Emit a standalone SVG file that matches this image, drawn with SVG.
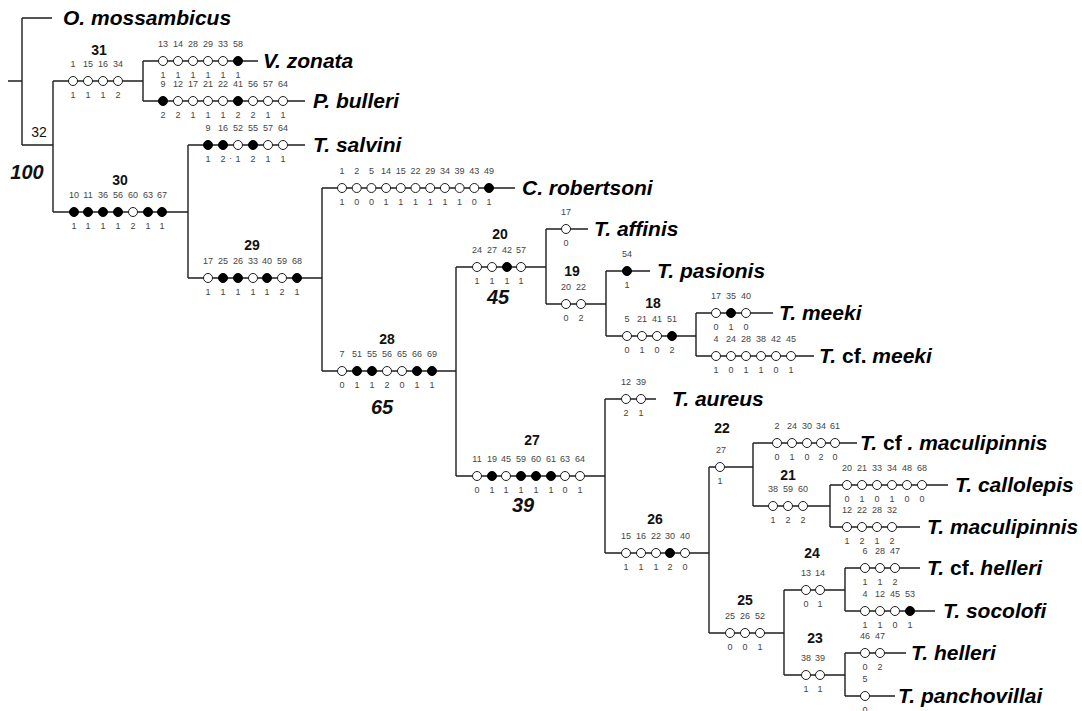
<svg xmlns="http://www.w3.org/2000/svg" xmlns:xlink="http://www.w3.org/1999/xlink" width="1082" height="711" viewBox="0 0 1082 711">
<style>
.ln{stroke:#1e1e1e;stroke-width:1.4;fill:none}
.ch{font-family:"Liberation Sans",Arial,sans-serif;font-size:9px;fill:#444;text-anchor:middle}
.nd{font-family:"Liberation Sans",Arial,sans-serif;font-size:14px;font-weight:bold;fill:#111;text-anchor:middle}
.nr{font-family:"Liberation Sans",Arial,sans-serif;font-size:14px;fill:#111;text-anchor:middle}
.sp{font-family:"Liberation Sans",Arial,sans-serif;font-size:20px;font-weight:bold;font-style:italic;fill:#111;text-anchor:middle}
.tx{font-family:"Liberation Sans",Arial,sans-serif;font-size:21px;font-weight:bold;font-style:italic;fill:#000}
.up{font-style:normal}
</style>
<defs>
<circle id="co" r="4.5" fill="#fff" stroke="#1e1e1e" stroke-width="1"/>
<circle id="cf" r="4.5" fill="#000" stroke="#000" stroke-width="1"/>
</defs>
<rect width="1082" height="711" fill="#fff"/>
<g id="connectors" class="ln">
<path d="M8 81H22M22 18V145M22 18H52M22 145H53M53 81V212M53 81H143M143 61V101M143 61H258M143 101H305"/>
<path d="M53 212H188M188 145V278M188 145H305M188 278H322M322 188V371M322 188H515M322 371H456M456 267V476"/>
<path d="M456 267H546M546 229V304M546 229H588M546 304H606M606 271V336M606 271H650M606 336H696M696 313V356M696 313H773M696 356H814"/>
<path d="M456 476H605M605 399V553M605 399H656M605 553H709M709 467V633M709 467H753M753 443V506M753 443H857M753 506H830M830 485V527M830 485H948M830 527H920"/>
<path d="M709 633H784M784 590V675M784 590H845M845 568V611M845 568H920M845 611H935M784 675H845M845 653V696M845 653H906M845 696H895"/>
</g>
<g id="root">
<text class="nr" x="39" y="137">32</text>
<text class="sp" x="27" y="179">100</text>
</g>
<g id="o_mossambicus"><text class="tx" x="63" y="25">O. mossambicus</text></g>
<g id="n31">
<text class="nd" x="99" y="55">31</text>
<use href="#co" x="73" y="81"/><use href="#co" x="88" y="81"/><use href="#co" x="103" y="81"/><use href="#co" x="118" y="81"/>
<text class="ch" x="73" y="67">1</text><text class="ch" x="88" y="67">15</text><text class="ch" x="103" y="67">16</text><text class="ch" x="118" y="67">34</text>
<text class="ch" x="73" y="98">1</text><text class="ch" x="88" y="98">1</text><text class="ch" x="103" y="98">1</text><text class="ch" x="118" y="98">2</text>
</g>
<g id="v_zonata">
<use href="#co" x="163" y="61"/><use href="#co" x="178" y="61"/><use href="#co" x="193" y="61"/><use href="#co" x="208" y="61"/><use href="#co" x="223" y="61"/><use href="#cf" x="238" y="61"/>
<text class="ch" x="163" y="47">13</text><text class="ch" x="178" y="47">14</text><text class="ch" x="193" y="47">28</text><text class="ch" x="208" y="47">29</text><text class="ch" x="223" y="47">33</text><text class="ch" x="238" y="47">58</text>
<text class="ch" x="163" y="78">1</text><text class="ch" x="178" y="78">1</text><text class="ch" x="193" y="78">1</text><text class="ch" x="208" y="78">1</text><text class="ch" x="223" y="78">1</text><text class="ch" x="238" y="78">1</text>
<text class="tx" x="263" y="68">V. zonata</text>
</g>
<g id="p_bulleri">
<use href="#cf" x="163" y="101"/><use href="#co" x="178" y="101"/><use href="#co" x="193" y="101"/><use href="#co" x="208" y="101"/><use href="#co" x="223" y="101"/><use href="#cf" x="238" y="101"/><use href="#co" x="253" y="101"/><use href="#co" x="268" y="101"/><use href="#co" x="283" y="101"/>
<text class="ch" x="163" y="87">9</text><text class="ch" x="178" y="87">12</text><text class="ch" x="193" y="87">17</text><text class="ch" x="208" y="87">21</text><text class="ch" x="223" y="87">22</text><text class="ch" x="238" y="87">41</text><text class="ch" x="253" y="87">56</text><text class="ch" x="268" y="87">57</text><text class="ch" x="283" y="87">64</text>
<text class="ch" x="163" y="118">2</text><text class="ch" x="178" y="118">2</text><text class="ch" x="193" y="118">1</text><text class="ch" x="208" y="118">1</text><text class="ch" x="223" y="118">1</text><text class="ch" x="238" y="118">2</text><text class="ch" x="253" y="118">2</text><text class="ch" x="268" y="118">1</text><text class="ch" x="283" y="118">1</text>
<text class="tx" x="313" y="108">P. bulleri</text>
</g>
<g id="t_salvini">
<use href="#cf" x="208" y="145"/><use href="#cf" x="223" y="145"/><use href="#co" x="238" y="145"/><use href="#cf" x="253" y="145"/><use href="#co" x="268" y="145"/><use href="#co" x="283" y="145"/>
<text class="ch" x="208" y="131">9</text><text class="ch" x="223" y="131">16</text><text class="ch" x="238" y="131">52</text><text class="ch" x="253" y="131">55</text><text class="ch" x="268" y="131">57</text><text class="ch" x="283" y="131">64</text>
<text class="ch" x="208" y="162">1</text><text class="ch" x="223" y="162">2</text><text class="ch" x="230.5" y="161">·</text><text class="ch" x="238" y="162">1</text><text class="ch" x="253" y="162">2</text><text class="ch" x="268" y="162">1</text><text class="ch" x="283" y="162">1</text>
<text class="tx" x="313" y="152">T. salvini</text>
</g>
<g id="n30">
<text class="nd" x="120" y="185">30</text>
<use href="#cf" x="74" y="212"/><use href="#cf" x="88" y="212"/><use href="#cf" x="103" y="212"/><use href="#cf" x="118" y="212"/><use href="#co" x="133" y="212"/><use href="#cf" x="148" y="212"/><use href="#cf" x="162" y="212"/>
<text class="ch" x="74" y="198">10</text><text class="ch" x="88" y="198">11</text><text class="ch" x="103" y="198">36</text><text class="ch" x="118" y="198">56</text><text class="ch" x="133" y="198">60</text><text class="ch" x="148" y="198">63</text><text class="ch" x="162" y="198">67</text>
<text class="ch" x="74" y="229">1</text><text class="ch" x="88" y="229">1</text><text class="ch" x="103" y="229">1</text><text class="ch" x="118" y="229">1</text><text class="ch" x="133" y="229">2</text><text class="ch" x="148" y="229">1</text><text class="ch" x="162" y="229">1</text>
</g>
<g id="n29">
<text class="nd" x="252" y="250">29</text>
<use href="#co" x="208" y="278"/><use href="#cf" x="223" y="278"/><use href="#cf" x="238" y="278"/><use href="#co" x="253" y="278"/><use href="#cf" x="267" y="278"/><use href="#co" x="282" y="278"/><use href="#cf" x="297" y="278"/>
<text class="ch" x="208" y="264">17</text><text class="ch" x="223" y="264">25</text><text class="ch" x="238" y="264">26</text><text class="ch" x="253" y="264">33</text><text class="ch" x="267" y="264">40</text><text class="ch" x="282" y="264">59</text><text class="ch" x="297" y="264">68</text>
<text class="ch" x="208" y="295">1</text><text class="ch" x="223" y="295">1</text><text class="ch" x="238" y="295">1</text><text class="ch" x="253" y="295">1</text><text class="ch" x="267" y="295">1</text><text class="ch" x="282" y="295">2</text><text class="ch" x="297" y="295">1</text>
</g>
<g id="c_robertsoni">
<use href="#co" x="342" y="188"/><use href="#co" x="356.7" y="188"/><use href="#co" x="371.4" y="188"/><use href="#co" x="386.1" y="188"/><use href="#co" x="400.8" y="188"/><use href="#co" x="415.5" y="188"/><use href="#co" x="430.2" y="188"/><use href="#co" x="444.9" y="188"/><use href="#co" x="459.6" y="188"/><use href="#co" x="474.3" y="188"/><use href="#cf" x="489" y="188"/>
<text class="ch" x="342" y="174">1</text><text class="ch" x="356.7" y="174">2</text><text class="ch" x="371.4" y="174">5</text><text class="ch" x="386.1" y="174">14</text><text class="ch" x="400.8" y="174">15</text><text class="ch" x="415.5" y="174">22</text><text class="ch" x="430.2" y="174">29</text><text class="ch" x="444.9" y="174">34</text><text class="ch" x="459.6" y="174">39</text><text class="ch" x="474.3" y="174">43</text><text class="ch" x="489" y="174">49</text>
<text class="ch" x="342" y="205">1</text><text class="ch" x="356.7" y="205">0</text><text class="ch" x="371.4" y="205">0</text><text class="ch" x="386.1" y="205">1</text><text class="ch" x="400.8" y="205">1</text><text class="ch" x="415.5" y="205">1</text><text class="ch" x="430.2" y="205">1</text><text class="ch" x="444.9" y="205">1</text><text class="ch" x="459.6" y="205">1</text><text class="ch" x="474.3" y="205">0</text><text class="ch" x="489" y="205">1</text>
<text class="tx" x="522" y="195">C. robertsoni</text>
</g>
<g id="n28">
<text class="nd" x="387" y="344">28</text>
<use href="#co" x="342" y="371"/><use href="#cf" x="357" y="371"/><use href="#cf" x="372" y="371"/><use href="#co" x="387" y="371"/><use href="#co" x="402" y="371"/><use href="#cf" x="417" y="371"/><use href="#cf" x="432" y="371"/>
<text class="ch" x="342" y="357">7</text><text class="ch" x="357" y="357">51</text><text class="ch" x="372" y="357">55</text><text class="ch" x="387" y="357">56</text><text class="ch" x="402" y="357">65</text><text class="ch" x="417" y="357">66</text><text class="ch" x="432" y="357">69</text>
<text class="ch" x="342" y="388">0</text><text class="ch" x="357" y="388">1</text><text class="ch" x="372" y="388">1</text><text class="ch" x="387" y="388">2</text><text class="ch" x="402" y="388">0</text><text class="ch" x="417" y="388">1</text><text class="ch" x="432" y="388">1</text>
<text class="sp" x="382" y="414">65</text>
</g>
<g id="n20">
<text class="nd" x="500" y="239">20</text>
<use href="#co" x="477" y="267"/><use href="#co" x="492" y="267"/><use href="#cf" x="507" y="267"/><use href="#co" x="521" y="267"/>
<text class="ch" x="477" y="253">24</text><text class="ch" x="492" y="253">27</text><text class="ch" x="507" y="253">42</text><text class="ch" x="521" y="253">57</text>
<text class="ch" x="477" y="284">1</text><text class="ch" x="492" y="284">1</text><text class="ch" x="507" y="284">1</text><text class="ch" x="521" y="284">1</text>
<text class="sp" x="498" y="304">45</text>
</g>
<g id="t_affinis">
<use href="#co" x="566" y="229"/>
<text class="ch" x="566" y="215">17</text><text class="ch" x="566" y="246">0</text>
<text class="tx" x="594" y="236">T. affinis</text>
</g>
<g id="n19">
<text class="nd" x="572" y="276">19</text>
<use href="#co" x="566" y="304"/><use href="#co" x="581" y="304"/>
<text class="ch" x="566" y="290">20</text><text class="ch" x="581" y="290">22</text>
<text class="ch" x="566" y="321">0</text><text class="ch" x="581" y="321">2</text>
</g>
<g id="t_pasionis">
<use href="#cf" x="627" y="271"/>
<text class="ch" x="627" y="257">54</text><text class="ch" x="627" y="288">1</text>
<text class="tx" x="657" y="278">T. pasionis</text>
</g>
<g id="n18">
<text class="nd" x="653" y="308">18</text>
<use href="#co" x="627" y="336"/><use href="#co" x="642" y="336"/><use href="#co" x="657" y="336"/><use href="#cf" x="672" y="336"/>
<text class="ch" x="627" y="322">5</text><text class="ch" x="642" y="322">21</text><text class="ch" x="657" y="322">41</text><text class="ch" x="672" y="322">51</text>
<text class="ch" x="627" y="353">0</text><text class="ch" x="642" y="353">1</text><text class="ch" x="657" y="353">0</text><text class="ch" x="672" y="353">2</text>
</g>
<g id="t_meeki">
<use href="#co" x="716" y="313"/><use href="#cf" x="731" y="313"/><use href="#co" x="746" y="313"/>
<text class="ch" x="716" y="299">17</text><text class="ch" x="731" y="299">35</text><text class="ch" x="746" y="299">40</text>
<text class="ch" x="716" y="330">0</text><text class="ch" x="731" y="330">1</text><text class="ch" x="746" y="330">0</text>
<text class="tx" x="779" y="320">T. meeki</text>
</g>
<g id="t_cf_meeki">
<use href="#co" x="716" y="356"/><use href="#co" x="731" y="356"/><use href="#co" x="746" y="356"/><use href="#co" x="761" y="356"/><use href="#co" x="776" y="356"/><use href="#co" x="791" y="356"/>
<text class="ch" x="716" y="342">4</text><text class="ch" x="731" y="342">24</text><text class="ch" x="746" y="342">28</text><text class="ch" x="761" y="342">38</text><text class="ch" x="776" y="342">42</text><text class="ch" x="791" y="342">45</text>
<text class="ch" x="716" y="373">1</text><text class="ch" x="731" y="373">0</text><text class="ch" x="746" y="373">1</text><text class="ch" x="761" y="373">1</text><text class="ch" x="776" y="373">0</text><text class="ch" x="791" y="373">1</text>
<text class="tx" x="819" y="363">T. <tspan class="up">cf.</tspan> meeki</text>
</g>
<g id="n27">
<text class="nd" x="532" y="445">27</text>
<use href="#co" x="477" y="476"/><use href="#cf" x="492" y="476"/><use href="#co" x="506" y="476"/><use href="#cf" x="521" y="476"/><use href="#cf" x="536" y="476"/><use href="#cf" x="551" y="476"/><use href="#co" x="565" y="476"/><use href="#co" x="580" y="476"/>
<text class="ch" x="477" y="462">11</text><text class="ch" x="492" y="462">19</text><text class="ch" x="506" y="462">45</text><text class="ch" x="521" y="462">59</text><text class="ch" x="536" y="462">60</text><text class="ch" x="551" y="462">61</text><text class="ch" x="565" y="462">63</text><text class="ch" x="580" y="462">64</text>
<text class="ch" x="477" y="493">0</text><text class="ch" x="492" y="493">1</text><text class="ch" x="506" y="493">1</text><text class="ch" x="521" y="493">1</text><text class="ch" x="536" y="493">1</text><text class="ch" x="551" y="493">1</text><text class="ch" x="565" y="493">0</text><text class="ch" x="580" y="493">1</text>
<text class="sp" x="523" y="512">39</text>
</g>
<g id="t_aureus">
<use href="#co" x="626" y="399"/><use href="#co" x="641" y="399"/>
<text class="ch" x="626" y="385">12</text><text class="ch" x="641" y="385">39</text>
<text class="ch" x="626" y="416">2</text><text class="ch" x="641" y="416">1</text>
<text class="tx" x="672" y="406">T. aureus</text>
</g>
<g id="n26">
<text class="nd" x="655" y="524">26</text>
<use href="#co" x="626" y="553"/><use href="#co" x="641" y="553"/><use href="#co" x="656" y="553"/><use href="#cf" x="670" y="553"/><use href="#co" x="685" y="553"/>
<text class="ch" x="626" y="539">15</text><text class="ch" x="641" y="539">16</text><text class="ch" x="656" y="539">22</text><text class="ch" x="670" y="539">30</text><text class="ch" x="685" y="539">40</text>
<text class="ch" x="626" y="570">1</text><text class="ch" x="641" y="570">1</text><text class="ch" x="656" y="570">1</text><text class="ch" x="670" y="570">2</text><text class="ch" x="685" y="570">0</text>
</g>
<g id="n22">
<text class="nd" x="722" y="433">22</text>
<use href="#co" x="720" y="467"/>
<text class="ch" x="721" y="453">27</text><text class="ch" x="720" y="484">1</text>
</g>
<g id="t_cf_maculipinnis">
<use href="#co" x="777" y="443"/><use href="#co" x="792" y="443"/><use href="#co" x="807" y="443"/><use href="#co" x="821" y="443"/><use href="#co" x="835" y="443"/>
<text class="ch" x="777" y="429">2</text><text class="ch" x="792" y="429">24</text><text class="ch" x="807" y="429">30</text><text class="ch" x="821" y="429">34</text><text class="ch" x="835" y="429">61</text>
<text class="ch" x="777" y="460">0</text><text class="ch" x="792" y="460">1</text><text class="ch" x="807" y="460">0</text><text class="ch" x="821" y="460">2</text><text class="ch" x="835" y="460">0</text>
<text class="tx" x="860" y="450">T. <tspan class="up">cf</tspan> . maculipinnis</text>
</g>
<g id="n21">
<text class="nd" x="788" y="480">21</text>
<use href="#co" x="773" y="506"/><use href="#co" x="788" y="506"/><use href="#co" x="803" y="506"/>
<text class="ch" x="773" y="492">38</text><text class="ch" x="788" y="492">59</text><text class="ch" x="803" y="492">60</text>
<text class="ch" x="773" y="523">1</text><text class="ch" x="788" y="523">2</text><text class="ch" x="803" y="523">2</text>
</g>
<g id="t_callolepis">
<use href="#co" x="847" y="485"/><use href="#co" x="862" y="485"/><use href="#co" x="877" y="485"/><use href="#co" x="892" y="485"/><use href="#co" x="907" y="485"/><use href="#co" x="922" y="485"/>
<text class="ch" x="847" y="471">20</text><text class="ch" x="862" y="471">21</text><text class="ch" x="877" y="471">33</text><text class="ch" x="892" y="471">34</text><text class="ch" x="907" y="471">48</text><text class="ch" x="922" y="471">68</text>
<text class="ch" x="847" y="502">0</text><text class="ch" x="862" y="502">1</text><text class="ch" x="877" y="502">0</text><text class="ch" x="892" y="502">1</text><text class="ch" x="907" y="502">0</text><text class="ch" x="922" y="502">0</text>
<text class="tx" x="955" y="492">T. callolepis</text>
</g>
<g id="t_maculipinnis">
<use href="#co" x="847" y="527"/><use href="#co" x="862" y="527"/><use href="#co" x="877" y="527"/><use href="#co" x="892" y="527"/>
<text class="ch" x="847" y="513">12</text><text class="ch" x="862" y="513">22</text><text class="ch" x="877" y="513">28</text><text class="ch" x="892" y="513">32</text>
<text class="ch" x="847" y="544">1</text><text class="ch" x="862" y="544">2</text><text class="ch" x="877" y="544">1</text><text class="ch" x="892" y="544">2</text>
<text class="tx" x="927" y="534">T. maculipinnis</text>
</g>
<g id="n25">
<text class="nd" x="745" y="605">25</text>
<use href="#co" x="730" y="633"/><use href="#co" x="745" y="633"/><use href="#co" x="760" y="633"/>
<text class="ch" x="730" y="619">25</text><text class="ch" x="745" y="619">26</text><text class="ch" x="760" y="619">52</text>
<text class="ch" x="730" y="650">0</text><text class="ch" x="745" y="650">0</text><text class="ch" x="760" y="650">1</text>
</g>
<g id="n24">
<text class="nd" x="812" y="558">24</text>
<use href="#co" x="806" y="590"/><use href="#co" x="820" y="590"/>
<text class="ch" x="806" y="576">13</text><text class="ch" x="820" y="576">14</text>
<text class="ch" x="806" y="607">0</text><text class="ch" x="820" y="607">1</text>
</g>
<g id="t_cf_helleri">
<use href="#co" x="865" y="568"/><use href="#co" x="880" y="568"/><use href="#co" x="895" y="568"/>
<text class="ch" x="865" y="554">6</text><text class="ch" x="880" y="554">28</text><text class="ch" x="895" y="554">47</text>
<text class="ch" x="865" y="585">1</text><text class="ch" x="880" y="585">1</text><text class="ch" x="895" y="585">2</text>
<text class="tx" x="927" y="575">T. <tspan class="up">cf.</tspan> helleri</text>
</g>
<g id="t_socolofi">
<use href="#co" x="865" y="611"/><use href="#co" x="880" y="611"/><use href="#co" x="895" y="611"/><use href="#cf" x="910" y="611"/>
<text class="ch" x="865" y="597">4</text><text class="ch" x="880" y="597">12</text><text class="ch" x="895" y="597">45</text><text class="ch" x="910" y="597">53</text>
<text class="ch" x="865" y="628">1</text><text class="ch" x="880" y="628">1</text><text class="ch" x="895" y="628">0</text><text class="ch" x="910" y="628">1</text>
<text class="tx" x="943" y="618">T. socolofi</text>
</g>
<g id="n23">
<text class="nd" x="815" y="643">23</text>
<use href="#co" x="806" y="675"/><use href="#co" x="820" y="675"/>
<text class="ch" x="806" y="661">38</text><text class="ch" x="820" y="661">39</text>
<text class="ch" x="806" y="692">1</text><text class="ch" x="820" y="692">1</text>
</g>
<g id="t_helleri">
<use href="#co" x="865" y="653"/><use href="#co" x="880" y="653"/>
<text class="ch" x="865" y="639">46</text><text class="ch" x="880" y="639">47</text>
<text class="ch" x="865" y="670">0</text><text class="ch" x="880" y="670">2</text>
<text class="tx" x="911" y="660">T. helleri</text>
</g>
<g id="t_panchovillai">
<use href="#co" x="865" y="696"/>
<text class="ch" x="865" y="682">5</text><text class="ch" x="865" y="713">0</text>
<text class="tx" x="898" y="703">T. panchovillai</text>
</g>
</svg>
